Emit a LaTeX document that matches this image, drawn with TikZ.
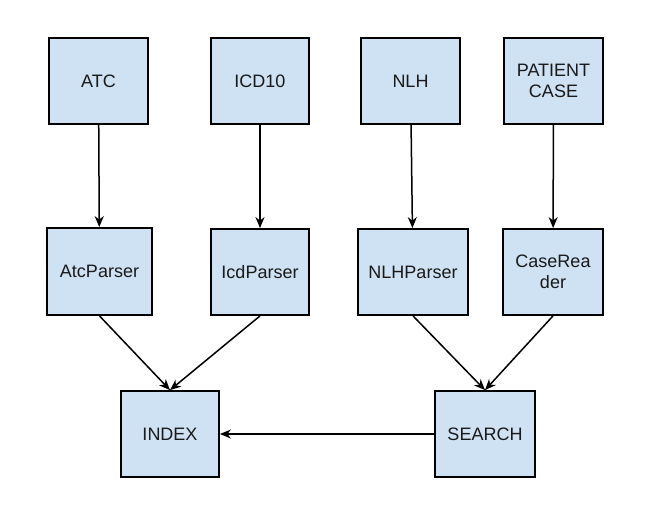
\documentclass[tikz,border=0pt]{standalone}
\usepackage{fontspec}
\setmainfont{Liberation Sans}
\usetikzlibrary{arrows.meta}
\definecolor{boxfill}{HTML}{CFE2F3}
\begin{document}
\begin{tikzpicture}[x=1pt,y=-1pt,
  box/.style={draw=black, line width=1.8pt, fill=boxfill, inner sep=0pt, align=center,
    font=\fontsize{18}{21}\selectfont, text=black!90},
  conn/.style={line width=1.5pt, -{Stealth[length=11pt,width=9pt,inset=3.5pt]}}]
\useasboundingbox (0,0) rectangle (650,504);
\node[box, minimum width=99pt, minimum height=86pt] (atc) at (98.5,81) {ATC};
\node[box, minimum width=98pt, minimum height=86pt] (icd) at (260,81) {ICD10};
\node[box, minimum width=99pt, minimum height=86pt] (nlh) at (410.5,81) {NLH};
\node[box, minimum width=99pt, minimum height=86pt] (pat) at (553.5,81) {PATIENT\\CASE};
\node[box, minimum width=105pt, minimum height=87pt] (atcp) at (99.5,271.5) {AtcParser};
\node[box, minimum width=98pt, minimum height=86pt] (icdp) at (260,272) {IcdParser};
\node[box, minimum width=110pt, minimum height=86pt] (nlhp) at (413,272) {NLHParser};
\node[box, minimum width=100pt, minimum height=86pt] (case) at (553,272) {CaseRea\\der};
\node[box, minimum width=98pt, minimum height=86pt] (index) at (170,434) {INDEX};
\node[box, minimum width=100pt, minimum height=86pt] (search) at (485,434) {SEARCH};
\draw[conn] (atc) -- (atcp);
\draw[conn] (icd) -- (icdp);
\draw[conn] (nlh) -- (nlhp);
\draw[conn] (pat) -- (case);
\draw[conn] (atcp.south) -- (index.north);
\draw[conn] (icdp.south) -- (index.north);
\draw[conn] (nlhp.south) -- (search.north);
\draw[conn] (case.south) -- (search.north);
\draw[conn] (search) -- (index);
\end{tikzpicture}
\end{document}
